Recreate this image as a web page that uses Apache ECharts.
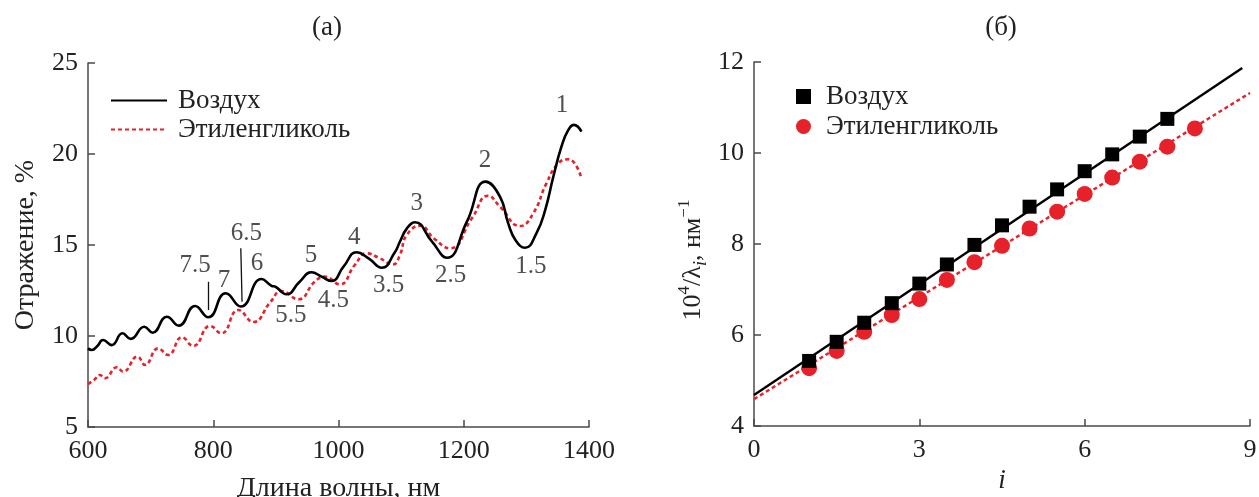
<!DOCTYPE html>
<html>
<head>
<meta charset="utf-8">
<script src="https://cdn.jsdelivr.net/npm/echarts@6/dist/echarts.min.js"></script>
<style>
  html, body { margin: 0; padding: 0; background: #fff; }
  #chart { width: 1259px; height: 497px; }
</style>
</head>
<body>
<div id="chart"></div>
<script>
// (а) спектры отражения, длина волны в нм / отражение в %
var airSpectrum = [
    [600, 9.32], [606, 9.23], [615, 9.45], [624, 9.78], [638, 9.5], [655, 10.15], [668, 9.84],
    [690, 10.51], [703, 10.18], [726, 11.06], [745, 10.57], [771, 11.65], [792, 11.03],
    [820, 12.35], [844, 11.62], [877, 13.13], [893, 12.76], [899, 12.71], [912, 12.35],
    [917, 12.29], [938, 12.98], [957, 13.5], [973, 13.26], [989, 13.02], [1008, 13.81],
    [1029, 14.6], [1048, 14.27], [1069, 13.75], [1090, 14.6], [1098, 15.18], [1109, 15.9],
    [1122, 16.25], [1149, 15.2], [1173, 14.3], [1205, 16.28], [1235, 18.48], [1258, 17.65],
    [1271, 16.19], [1283, 15.25], [1298, 14.85], [1316, 15.64], [1330, 16.92], [1343, 18.75],
    [1356, 20.4], [1367, 21.32], [1376, 21.6], [1388, 21.23]
];
var glycolSpectrum = [
    [600, 7.36], [610, 7.6], [619, 7.86], [627, 7.68], [646, 8.28], [656, 8.04], [679, 8.87],
    [691, 8.41], [712, 9.32], [728, 8.96], [750, 9.93], [768, 9.45], [795, 10.55], [813, 10.15],
    [840, 11.43], [864, 10.77], [891, 11.85], [909, 12.47], [936, 12.02], [962, 12.98],
    [978, 13.26], [1002, 12.84], [1026, 13.9], [1045, 14.54], [1066, 14.27], [1087, 13.93],
    [1098, 14.45], [1109, 15.55], [1131, 16.06], [1152, 15.37], [1178, 14.82], [1213, 16.47],
    [1239, 17.71], [1258, 17.1], [1290, 16.04], [1311, 16.74], [1332, 18.39], [1351, 19.49],
    [1367, 19.71], [1388, 18.66]
];
// номера экстремумов: текст, x, y
var extremaLabels = [
    ["1", 1357, 22.69], ["2", 1234, 19.62], ["3", 1125, 17.29], ["4", 1025, 15.42],
    ["5", 956, 14.45], ["6", 870, 13.99], ["6.5", 853, 15.64], ["7", 817, 13.08],
    ["7.5", 771, 13.85], ["1.5", 1307, 13.81], ["2.5", 1179, 13.35], ["3.5", 1080, 12.8],
    ["4.5", 992, 11.94], ["5.5", 924, 11.15]
];
var leaders = [
    [[792, 12.98], [792, 11.43]],
    [[844, 14.82], [846, 11.88]]
];

// (б) 10^4/λi от номера i
var iAir = [1, 1.5, 2, 2.5, 3, 3.5, 4, 4.5, 5, 5.5, 6, 6.5, 7, 7.5];
var invAir = [5.43, 5.85, 6.27, 6.70, 7.13, 7.55, 7.98, 8.41, 8.82, 9.20, 9.60, 9.97, 10.36, 10.75];
var iGlycol = [1, 1.5, 2, 2.5, 3, 3.5, 4, 4.5, 5, 5.5, 6, 6.5, 7, 7.5, 8];
var invGlycol = [5.27, 5.65, 6.07, 6.44, 6.79, 7.21, 7.60, 7.96, 8.34, 8.71, 9.10, 9.46, 9.81, 10.14, 10.54];
var airFit = [[0, 4.68], [8.86, 11.87]];
var glycolFit = [[0, 4.59], [9, 11.32]];

var FONT = "Liberation Serif";
var RED = "#e62129";
var AXIS = "#4a4a4a";
var TEXT = "#222";

function zip(xs, ys)
{
    return xs.map(function (x, k) { return [x, ys[k]]; });
}

function plain(v)
{
    return String(v);
}

function axisBase(extra)
{
    var base = {
        type: "value",
        splitLine: { show: false },
        axisLine: { onZero: false, lineStyle: { color: AXIS, width: 1.5 } },
        axisTick: { inside: true, length: 7, lineStyle: { color: AXIS, width: 1.5 } },
        axisLabel: { color: TEXT, fontFamily: FONT, fontSize: 26, formatter: plain },
        nameLocation: "middle",
        nameTextStyle: { color: TEXT, fontFamily: FONT, fontSize: 28 }
    };
    for (var k in extra) { base[k] = extra[k]; }
    return base;
}

var chart = echarts.init(document.getElementById("chart"));

chart.setOption({
    animation: false,
    backgroundColor: "#fff",
    title: [
        { text: "(а)", left: 322, top: 9, textAlign: "center",
          textStyle: { fontFamily: FONT, fontSize: 27, fontWeight: "normal", color: TEXT } },
        { text: "(б)", left: 996, top: 9, textAlign: "center",
          textStyle: { fontFamily: FONT, fontSize: 27, fontWeight: "normal", color: TEXT } }
    ],
    legend: [
        {
            data: ["Воздух", "Этиленгликоль"],
            orient: "vertical", left: 110, top: 87, padding: 0,
            itemWidth: 56, itemHeight: 4, itemGap: 2,
            itemStyle: { opacity: 0 },
            textStyle: { fontFamily: FONT, fontSize: 27, color: TEXT, padding: [0, 0, 0, 6] }
        },
        {
            data: ["Воздух (б)", "Этиленгликоль (б)"],
            orient: "vertical", left: 796, top: 83, padding: 0,
            itemWidth: 15, itemHeight: 15, itemGap: 3,
            formatter: function (name) { return name.replace(" (б)", ""); },
            textStyle: { fontFamily: FONT, fontSize: 27, color: TEXT, padding: [0, 0, 0, 10] }
        }
    ],
    grid: [
        { left: 88, right: 670, top: 63, bottom: 70, outerBoundsMode: "none" },
        { left: 754, right: 9, top: 62, bottom: 71, outerBoundsMode: "none" }
    ],
    xAxis: [
        axisBase({ gridIndex: 0, min: 600, max: 1400, interval: 200,
                   name: "Длина волны, нм", nameGap: 48,
                   axisLabel: { color: TEXT, fontFamily: FONT, fontSize: 26, margin: 11, formatter: plain } }),
        axisBase({ gridIndex: 1, min: 0, max: 9, interval: 3,
                   name: "i", nameGap: 37,
                   axisLabel: { color: TEXT, fontFamily: FONT, fontSize: 26, margin: 11, formatter: plain },
                   nameTextStyle: { color: TEXT, fontFamily: FONT, fontSize: 27, fontStyle: "italic" } })
    ],
    yAxis: [
        axisBase({ gridIndex: 0, min: 5, max: 25, interval: 5,
                   name: "Отражение, %", nameGap: 48,
                   axisLabel: { color: TEXT, fontFamily: FONT, fontSize: 26, margin: 10, formatter: plain } }),
        axisBase({ gridIndex: 1, min: 4, max: 12, interval: 2,
                   name: "{n|10}{sup|4}{n|/λ}{sub|i}{n|, нм}{sup|−1}", nameGap: 44,
                   axisLabel: { color: TEXT, fontFamily: FONT, fontSize: 26, margin: 10, formatter: plain },
                   nameTextStyle: {
                       color: TEXT, fontFamily: FONT, fontSize: 26, padding: [0, 32, 0, 0],
                       rich: {
                           n: { fontFamily: FONT, fontSize: 26, color: TEXT, lineHeight: 34 },
                           sup: { fontFamily: FONT, fontSize: 17, color: TEXT, verticalAlign: "top", lineHeight: 34 },
                           sub: { fontFamily: FONT, fontSize: 18, color: TEXT, fontStyle: "italic", verticalAlign: "bottom", lineHeight: 30 }
                       }
                   } })
    ],
    series: [
        {
            name: "Воздух", type: "line", xAxisIndex: 0, yAxisIndex: 0,
            data: airSpectrum, smooth: 0.5, symbol: "none",
            lineStyle: { color: "#000", width: 2.6 }, itemStyle: { color: "#000" },
            markLine: {
                silent: true, symbol: "none", label: { show: false },
                lineStyle: { color: "#111", width: 1.3, type: "solid" },
                data: leaders.map(function (l) { return [{ coord: l[0] }, { coord: l[1] }]; })
            },
            z: 3
        },
        {
            name: "Этиленгликоль", type: "line", xAxisIndex: 0, yAxisIndex: 0,
            data: glycolSpectrum, smooth: 0.5, symbol: "none",
            lineStyle: { color: RED, width: 2.6, type: [4, 3] }, itemStyle: { color: RED },
            z: 2
        },
        {
            name: "labels", type: "scatter", xAxisIndex: 0, yAxisIndex: 0,
            symbolSize: 1, itemStyle: { color: "rgba(0,0,0,0)" }, silent: true,
            data: extremaLabels.map(function (a) { return { name: a[0], value: [a[1], a[2]] }; }),
            label: { show: true, position: "inside", formatter: "{b}",
                     fontFamily: FONT, fontSize: 25, color: TEXT }
        },
        {
            name: "airFit", type: "line", xAxisIndex: 1, yAxisIndex: 1,
            data: airFit, symbol: "none",
            lineStyle: { color: "#000", width: 2.4 }
        },
        {
            name: "glycolFit", type: "line", xAxisIndex: 1, yAxisIndex: 1,
            data: glycolFit, symbol: "none",
            lineStyle: { color: RED, width: 2.4, type: [4, 3] }
        },
        {
            name: "Воздух (б)", type: "scatter", xAxisIndex: 1, yAxisIndex: 1,
            data: zip(iAir, invAir), symbol: "rect", symbolSize: 14,
            itemStyle: { color: "#000", opacity: 1 }, z: 4
        },
        {
            name: "Этиленгликоль (б)", type: "scatter", xAxisIndex: 1, yAxisIndex: 1,
            data: zip(iGlycol, invGlycol), symbol: "circle", symbolSize: 16,
            itemStyle: { color: RED, opacity: 1 }, z: 3
        }
    ]
});
</script>
</body>
</html>
